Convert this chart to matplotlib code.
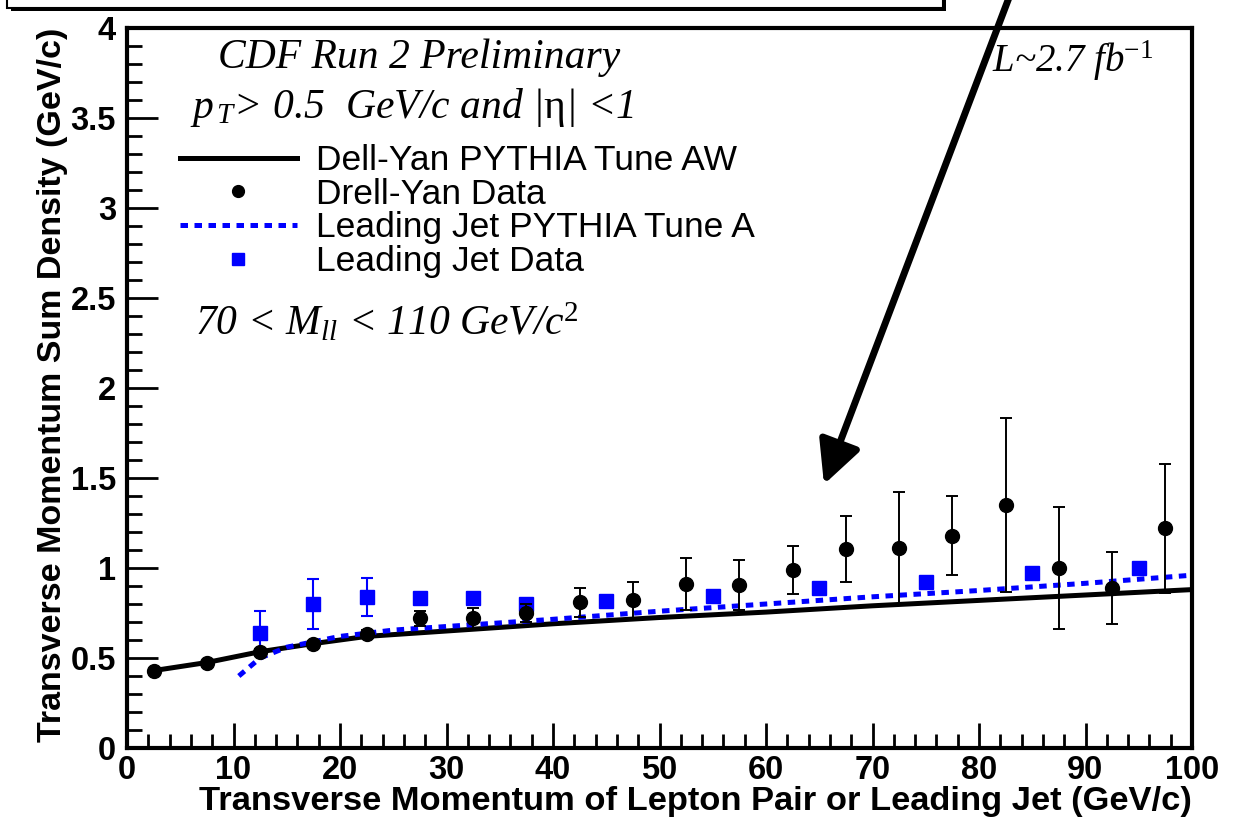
import matplotlib
matplotlib.use("Agg")
import matplotlib.pyplot as plt
from matplotlib.lines import Line2D
from matplotlib.patches import Rectangle, FancyArrowPatch
import numpy as np

# ---------------- data ----------------
dy_x = [2.5, 7.5, 12.5, 17.5, 22.5, 27.5, 32.5, 37.5, 42.5, 47.5,
        52.5, 57.5, 62.5, 67.5, 72.5, 77.5, 82.5, 87.5, 92.5, 97.5]
dy_y = [0.43, 0.47, 0.535, 0.58, 0.635, 0.72, 0.72, 0.75, 0.81, 0.82,
        0.91, 0.905, 0.99, 1.105, 1.11, 1.18, 1.35, 1.00, 0.89, 1.22]
dy_err = [0.01, 0.01, 0.015, 0.015, 0.02, 0.04, 0.06, 0.05, 0.08, 0.10,
          0.145, 0.14, 0.135, 0.185, 0.31, 0.22, 0.485, 0.34, 0.20, 0.36]

jet_x = [12.5, 17.5, 22.5, 27.5, 32.5, 37.5, 45, 55, 65, 75, 85, 95]
jet_y = [0.64, 0.80, 0.84, 0.835, 0.835, 0.80, 0.815, 0.845, 0.89, 0.92, 0.97, 1.00]
jet_err = [0.12, 0.14, 0.105, 0.02, 0.02, 0.02, 0.02, 0.02, 0.02, 0.02, 0.02, 0.02]

dy_mc_x = [2.5, 7.5, 12.5, 17.5, 22.5, 30, 40, 50, 60, 70, 80, 90, 100]
dy_mc_y = [0.43, 0.475, 0.535, 0.58, 0.62, 0.65, 0.69, 0.725, 0.755, 0.79, 0.82, 0.85, 0.88]

jet_mc_x = [10.5, 12.5, 15, 20, 25, 30, 40, 50, 60, 70, 80, 90, 100]
jet_mc_y = [0.40, 0.50, 0.56, 0.62, 0.655, 0.675, 0.715, 0.76, 0.80, 0.84, 0.875, 0.915, 0.96]

legend_labels = ["Dell-Yan PYTHIA Tune AW", "Drell-Yan Data",
                 "Leading Jet PYTHIA Tune A", "Leading Jet Data"]

BLUE = "#0000ff"
W, H = 1239, 825

plt.rcParams["mathtext.fontset"] = "custom"
plt.rcParams["mathtext.rm"] = "Liberation Serif"
plt.rcParams["mathtext.it"] = "Liberation Serif:italic"

fig = plt.figure(figsize=(W / 100, H / 100), dpi=100)
ax = fig.add_axes([127 / W, 1 - 748 / H, (1192 - 127) / W, (748 - 28) / H])

# curves
ax.plot(dy_mc_x, dy_mc_y, color="black", lw=3.6, solid_capstyle="butt", zorder=3)
ax.plot(jet_mc_x, jet_mc_y, color=BLUE, lw=3.6, linestyle=(0, (1.5, 1.3)), zorder=3)

# data
ax.errorbar(jet_x, jet_y, yerr=jet_err, fmt="s", color=BLUE, ms=10.5,
            elinewidth=1.5, capsize=4, capthick=1.5, zorder=4)
ax.errorbar(dy_x, dy_y, yerr=dy_err, fmt="o", color="black", ms=10,
            elinewidth=1.4, capsize=4, capthick=1.4, zorder=5)

ax.set_xlim(0, 100)
ax.set_ylim(0, 4)
ax.set_xticks(np.arange(0, 101, 10))
ax.set_xticks(np.arange(0, 101, 2), minor=True)
ax.set_yticks(np.arange(0, 4.01, 0.5))
ax.set_yticks(np.arange(0, 4.01, 0.1), minor=True)
ax.set_yticklabels(["0", "0.5", "1", "1.5", "2", "2.5", "3", "3.5", "4"])
for s in ax.spines.values():
    s.set_linewidth(3)
ax.tick_params(axis="both", which="both", direction="in", top=False, right=False,
               width=2)
ax.tick_params(axis="y", which="major", length=22, pad=8)
ax.tick_params(axis="y", which="minor", length=11)
ax.tick_params(axis="x", which="major", length=18, pad=5)
ax.tick_params(axis="x", which="minor", length=10)
for lab in ax.get_xticklabels() + ax.get_yticklabels():
    lab.set_fontfamily("Liberation Sans")
    lab.set_fontweight("bold")
    lab.set_fontsize(23.5)

ax.set_xlabel("Transverse Momentum of Lepton Pair or Leading Jet (GeV/c)",
              fontfamily="Liberation Sans", fontweight="bold", fontsize=24.8,
              labelpad=0, loc="right")
ax.set_ylabel("Transverse Momentum Sum Density (GeV/c)",
              fontfamily="Liberation Sans", fontweight="bold", fontsize=24.5,
              labelpad=2, loc="top")

# legend
handles = [
    Line2D([], [], color="black", lw=3.6),
    Line2D([], [], color="black", marker="o", ls="none", ms=8.5),
    Line2D([], [], color=BLUE, lw=3.6, linestyle=(0, (1.5, 1.3))),
    Line2D([], [], color=BLUE, marker="s", ls="none", ms=9),
]
leg = fig.legend(handles, legend_labels, loc="upper left",
                 bbox_to_anchor=(180 / W, 1 - 144 / H),
                 frameon=False, handlelength=3.3, handletextpad=0.55,
                 labelspacing=0.02, borderpad=0, borderaxespad=0,
                 prop={"family": "Liberation Sans", "size": 25.5})

# texts
serif = "Liberation Serif"
fig.text(218 / W, 1 - 68 / H, "CDF Run 2 Preliminary", fontfamily=serif,
         fontstyle="italic", fontsize=30, ha="left", va="baseline")
fig.text(190 / W, 1 - 118 / H,
         r"$p_{\,T}$> 0.5  GeV/c and |$\mathrm{\eta}$| <1",
         fontfamily=serif, fontstyle="italic", fontsize=30, ha="left", va="baseline")
fig.text(195 / W, 1 - 335 / H, r"70 < M$_{ll}$ < 110 GeV/c$^{2}$",
         fontfamily=serif, fontstyle="italic", fontsize=30, ha="left", va="baseline")
fig.text(992 / W, 1 - 72 / H, r"L~2.7 fb$^{-1}$", fontfamily=serif,
         fontstyle="italic", fontsize=28, ha="left", va="baseline")

# top box (partially visible title box) with shadow
fig.patches.append(Rectangle((11 / W, 1 - 11 / H), (946 - 11) / W, 40 / H,
                             transform=fig.transFigure, facecolor="black",
                             edgecolor="none", zorder=0))
fig.patches.append(Rectangle((7 / W, 1 - 8 / H), (943 - 7) / W, 40 / H,
                             transform=fig.transFigure, facecolor="white",
                             edgecolor="black", lw=1.5, zorder=1))

# arrow
arr = FancyArrowPatch((1010 / W, 1 + 5 / H), (823 / W, 1 - 487 / H),
                      transform=fig.transFigure,
                      arrowstyle="-|>,head_length=1.3,head_width=0.65",
                      mutation_scale=20, color="black", lw=5, zorder=10)
fig.patches.append(arr)

fig.savefig("out.png", dpi=100)
